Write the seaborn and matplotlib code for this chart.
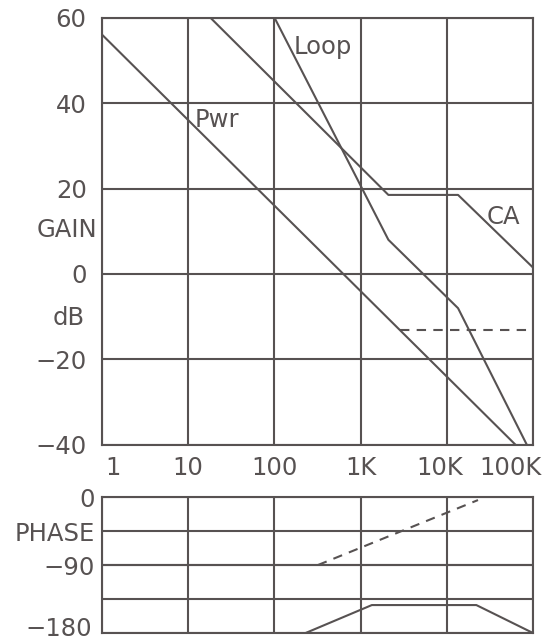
import numpy as np
import pandas as pd
import matplotlib
matplotlib.use("Agg")
import matplotlib.pyplot as plt
import seaborn as sns

# ---- data ----
pwr_f = [1, 63000]
pwr_db = [56, -40]
ca_f = [18, 2100, 13500, 100000]
ca_db = [60, 18.5, 18.5, 1.5]
loop_f = [100, 2100, 13500, 85000]
loop_db = [60, 8, -8, -40]
ref_f = [2880, 100000]
ref_db = [-13, -13]

ph_pwr_f = [1, 100000]
ph_pwr = [-90, -90]
ph_dash_f = [320, 23000]
ph_dash = [-90, -4]
ph_loop_f = [230, 1350, 22000, 100000]
ph_loop = [-180, -143, -143, -180]

freq_ticks = [1, 10, 100, 1000, 10000, 100000]
freq_labels = ["1", "10", "100", "1K", "10K", "100K"]
gain_ticks = [60, 40, 20, 0, -20, -40]
gain_labels = ["60", "40", "20", "0", "\u221220", "\u221240"]
phase_ticks = [0, -45, -90, -135, -180]
phase_labels = ["0", "PHASE", "\u221290", "", ""]

sns.set_theme(style="white")
plt.rcParams["font.family"] = ["DejaVu Sans"]

C = "#575252"
LW = 1.5
FS = 17.5

fig = plt.figure(figsize=(5.55, 6.42), dpi=100)
ax = fig.add_axes([0.1838, 0.3069, 0.7766, 0.6658])
ax2 = fig.add_axes([0.1838, 0.0140, 0.7766, 0.2118])

def line(a, f, v, dashed=False):
    d = pd.DataFrame({"f": f, "v": v})
    sns.lineplot(data=d, x="f", y="v", ax=a, color=C, lw=LW, sort=False,
                 linestyle=(0, (4.5, 3.5)) if dashed else "-")

line(ax, pwr_f, pwr_db)
line(ax, ca_f, ca_db)
line(ax, loop_f, loop_db)
line(ax, ref_f, ref_db, dashed=True)

line(ax2, ph_pwr_f, ph_pwr)
line(ax2, ph_dash_f, ph_dash, dashed=True)
line(ax2, ph_loop_f, ph_loop)

for a in (ax, ax2):
    a.set_xscale("log")
    a.set_xlim(1, 100000)
    a.set_xlabel("")
    a.set_ylabel("")
    a.set_xticks(freq_ticks)
    a.minorticks_off()
    a.grid(True, which="major", color=C, lw=LW)
    for s in a.spines.values():
        s.set_color(C)
        s.set_linewidth(LW)
    a.tick_params(length=0, colors=C, labelsize=FS)

ax.set_ylim(-40, 60)
ax.set_yticks(gain_ticks)
ax.set_yticklabels(gain_labels)
ax.tick_params(axis="y", pad=11)
ax.set_xticklabels([])
ax2.set_xticklabels([])

ax2.set_ylim(-180, 0)
ax2.set_yticks(phase_ticks)
ax2.set_yticklabels(phase_labels)
ax2.tick_params(axis="y", pad=5)
ax2.text(-0.022, -190.5, "\u2212180", transform=ax2.get_yaxis_transform(),
         ha="right", va="bottom", fontsize=FS, color=C, clip_on=False)

# frequency labels between the two panels
lab_x = [1.34, 10, 100, 1000, 8300, 54000]
for x, t in zip(lab_x, freq_labels):
    ax.text(x, -45.5, t, ha="center", va="center", fontsize=FS, color=C)

ax.text(-0.01, 10.3, "GAIN", transform=ax.get_yaxis_transform(),
        ha="right", va="center", fontsize=FS, color=C)
ax.text(-0.04, -10.3, "dB", transform=ax.get_yaxis_transform(),
        ha="right", va="center", fontsize=FS, color=C)

ax.text(12, 36, "Pwr", ha="left", va="center", fontsize=FS, color=C)
ax.text(165, 53.1, "Loop", ha="left", va="center", fontsize=FS, color=C)
ax.text(29000, 13.3, "CA", ha="left", va="center", fontsize=FS, color=C)

fig.savefig("out.png", dpi=100)
